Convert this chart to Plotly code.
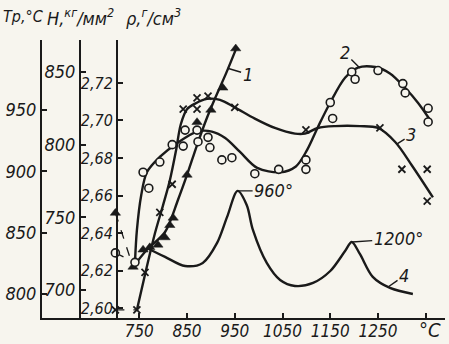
import plotly.graph_objects as go

# ---------------- data ----------------
# curve 1 (triangles) -> Tp, °C
T1_pts = [700, 737, 758, 772, 789, 804, 814, 821, 850, 871, 900, 925, 952]
Tp1_pts = [866, 822, 836, 838, 840, 846, 856, 862, 897, 940, 950, 968, 1000]
T1_dash = [700, 737]
Tp1_dash = [866, 822]
T1_line = [737, 766, 804, 831, 850, 871, 890, 909, 932, 954]
Tp1_line = [822, 836, 850.5, 876.6, 897, 921.4, 941.8, 959.7, 980, 1001]

# curve 2 (circles) -> H, kg/mm2
T2_pts = [700, 741, 758, 770, 793, 819, 842, 846, 871, 873, 894, 898, 923, 944,
          992, 1042, 1099, 1099, 1150, 1155, 1195, 1202, 1250, 1302, 1307, 1355, 1355]
H2_pts = [725.5, 719, 781, 770, 788, 800, 799, 810, 810, 802, 805, 798, 789.5, 791,
          780, 783, 789.5, 783, 829, 818, 850, 845, 851, 842, 835.6, 825, 815.6]
T2_dash = [700, 741]
H2_dash = [725.5, 719]
T2_line = [741, 745, 754, 766, 793, 829, 871, 902, 930, 961, 997, 1045, 1078, 1101,
           1124, 1150, 1181, 1208, 1244, 1275, 1307, 1334, 1357]
H2_line = [719, 741, 765, 781, 791.5, 801, 809, 809, 804.6, 795, 784, 781, 785, 796,
           812, 829, 846, 853, 853.4, 849, 839, 828.7, 818]

# curve 3 (crosses) -> density, g/cm3
T3_pts = [700, 745, 762, 793, 819, 842, 871, 871, 894, 950, 1099, 1254, 1300, 1353, 1353]
R3_pts = [2.599, 2.599, 2.619, 2.651, 2.666, 2.706, 2.706, 2.712, 2.713, 2.707,
          2.695, 2.696, 2.674, 2.674, 2.657]
T3_dash = [700, 745]
R3_dash = [2.599, 2.599]
T3_line = [745, 764, 783, 800, 814, 827, 837, 850, 867, 892, 919, 950, 992, 1034,
           1076, 1097, 1124, 1160, 1212, 1250, 1286, 1321, 1365]
R3_line = [2.599, 2.620, 2.640, 2.655, 2.668, 2.684, 2.698, 2.706, 2.709, 2.7115,
           2.711, 2.707, 2.701, 2.696, 2.693, 2.693, 2.696, 2.697, 2.697, 2.696,
           2.6885, 2.676, 2.659]

# curve 4 (thermogram, no markers), drawn on the Tp scale
T4_line = [766, 804, 846, 883, 913, 934, 956, 975, 988, 1017, 1045, 1076, 1114,
           1150, 1181, 1195, 1212, 1239, 1275, 1323]
Y4_line = [837.5, 830.2, 822.8, 825.3, 841.6, 862.8, 884, 872.5, 852.2, 825.3,
           811.4, 806.5, 809, 818.7, 835, 842.4, 832.6, 813.9, 804.9, 800]

# axes ticks
x_ticks = [750, 850, 950, 1050, 1150, 1250, 1350]
x_labels = ["750", "850", "950", "1050", "1150", "1250", ""]
tp_ticks = [800, 850, 900, 950]
h_ticks = [700, 750, 800, 850]
rho_ticks = [2.60, 2.62, 2.64, 2.66, 2.68, 2.70, 2.72]
rho_labels = ["2,60", "2,62", "2,64", "2,66", "2,68", "2,70", "2,72"]

# ---------------- layout geometry ----------------
W, H = 449, 344
X_RANGE = [546.3, 1390.3]
XD = [42 / W, 445 / W]
YD = [1 - 318 / H, 1 - 40 / H]
TP_RANGE = [780.4, 1007]
H_RANGE = [680.7, 872]
RHO_RANGE = [2.5947, 2.7429]

FONT = "DejaVu Sans Condensed, Liberation Sans Narrow, DejaVu Sans, sans-serif"
INK = "#1a1a1a"
BG = "#f7f5ee"
TF = dict(family=FONT, size=18, color=INK, style="italic")
TF_X = dict(family=FONT, size=17, color=INK, style="italic")
TF_RHO = dict(family=FONT, size=16, color=INK, style="italic")

fig = go.Figure()

LW = 2.4


def line(x, y, yaxis, dash="solid", width=LW, spline=True):
    fig.add_trace(go.Scatter(x=x, y=y, yaxis=yaxis, mode="lines",
                             line=dict(color=INK, width=width, dash=dash,
                                       shape="spline" if spline else "linear",
                                       smoothing=0.9),
                             showlegend=False, hoverinfo="skip"))


def pts(x, y, yaxis, symbol, size, lw=1.6, fill=INK):
    fig.add_trace(go.Scatter(x=x, y=y, yaxis=yaxis, mode="markers",
                             marker=dict(symbol=symbol, size=size, color=fill,
                                         line=dict(color=INK, width=lw)),
                             showlegend=False, hoverinfo="skip"))


# curve 4
line(T4_line, Y4_line, "y")
# curve 1
line(T1_dash, Tp1_dash, "y", dash="dash", width=1.3, spline=False)
line(T1_line, Tp1_line, "y")
# curve 2
line(T2_dash, H2_dash, "y2", dash="dash", width=1.3, spline=False)
line(T2_line, H2_line, "y2")
# curve 3
line(T3_dash, R3_dash, "y3", dash="dash", width=1.3, spline=False)
line(T3_line, R3_line, "y3")

pts(T2_pts, H2_pts, "y2", "circle", 8, lw=1.6, fill=BG)
pts(T3_pts, R3_pts, "y3", "x-thin-open", 7, lw=1.8)
pts(T1_pts, Tp1_pts, "y", "triangle-up", 9, lw=0.5)

axis_common = dict(showgrid=False, zeroline=False, showline=True, linecolor=INK,
                   linewidth=2, ticks="inside", ticklen=5, tickwidth=2,
                   tickcolor=INK, automargin=False)

fig.update_layout(
    width=W, height=H,
    margin=dict(l=0, r=0, t=0, b=0),
    paper_bgcolor=BG, plot_bgcolor=BG,
    showlegend=False,
    xaxis=dict(domain=XD, range=X_RANGE, tickvals=x_ticks, ticktext=x_labels,
               anchor="y", tickfont=TF_X, ticklabelstandoff=-3, **axis_common),
    yaxis=dict(domain=YD, range=TP_RANGE, tickvals=tp_ticks, anchor="x",
               side="left", tickfont=TF, **axis_common),
    yaxis2=dict(domain=YD, range=H_RANGE, tickvals=h_ticks, overlaying="y",
                anchor="free", position=80 / W, side="left", tickfont=TF,
                **axis_common),
    yaxis3=dict(domain=YD, range=RHO_RANGE, tickvals=rho_ticks, ticktext=rho_labels,
                overlaying="y", anchor="free", position=117 / W, side="left",
                tickfont=TF_RHO, **axis_common),
)

# header texts
HF = dict(family=FONT, size=17, color=INK, style="italic")
def ptext(px, py, text, size=17, xanchor="center"):
    fig.add_annotation(x=px / W, y=1 - py / H, xref="paper", yref="paper",
                       text=text, showarrow=False, xanchor=xanchor, yanchor="middle",
                       font=dict(HF, size=size))

ptext(1, 17, "Tp,°C", size=16, xanchor="left")
ptext(45, 17, "H,<sup>кг</sup>/мм<sup>2</sup>", size=18, xanchor="left")
ptext(124, 17, "ρ,<sup>г</sup>/см<sup>3</sup>", size=18, xanchor="left")
ptext(430, 330, "°C", size=20)

# curve labels with leader lines
def lab(x, y, yref, text, ax, ay, size=18):
    fig.add_annotation(x=x, y=y, xref="x", yref=yref, text=text, showarrow=True,
                       arrowhead=0, arrowwidth=1.4, arrowcolor=INK, ax=ax, ay=ay,
                       standoff=0, font=dict(HF, size=size))

lab(935, 984, "y", "1", 20, 6)
lab(1212, 852.8, "y2", "2", -15, -15)
lab(1290, 2.6875, "y3", "3", 14, -9)
lab(1271, 805.7, "y", "4", 16, -11)
lab(956, 884, "y", "960°", 36, 0)
lab(1196, 842.4, "y", "1200°", 46, -3)

fig.write_html("out.html", post_script="document.body.style.margin='0px';",
               config={"displayModeBar": False})
